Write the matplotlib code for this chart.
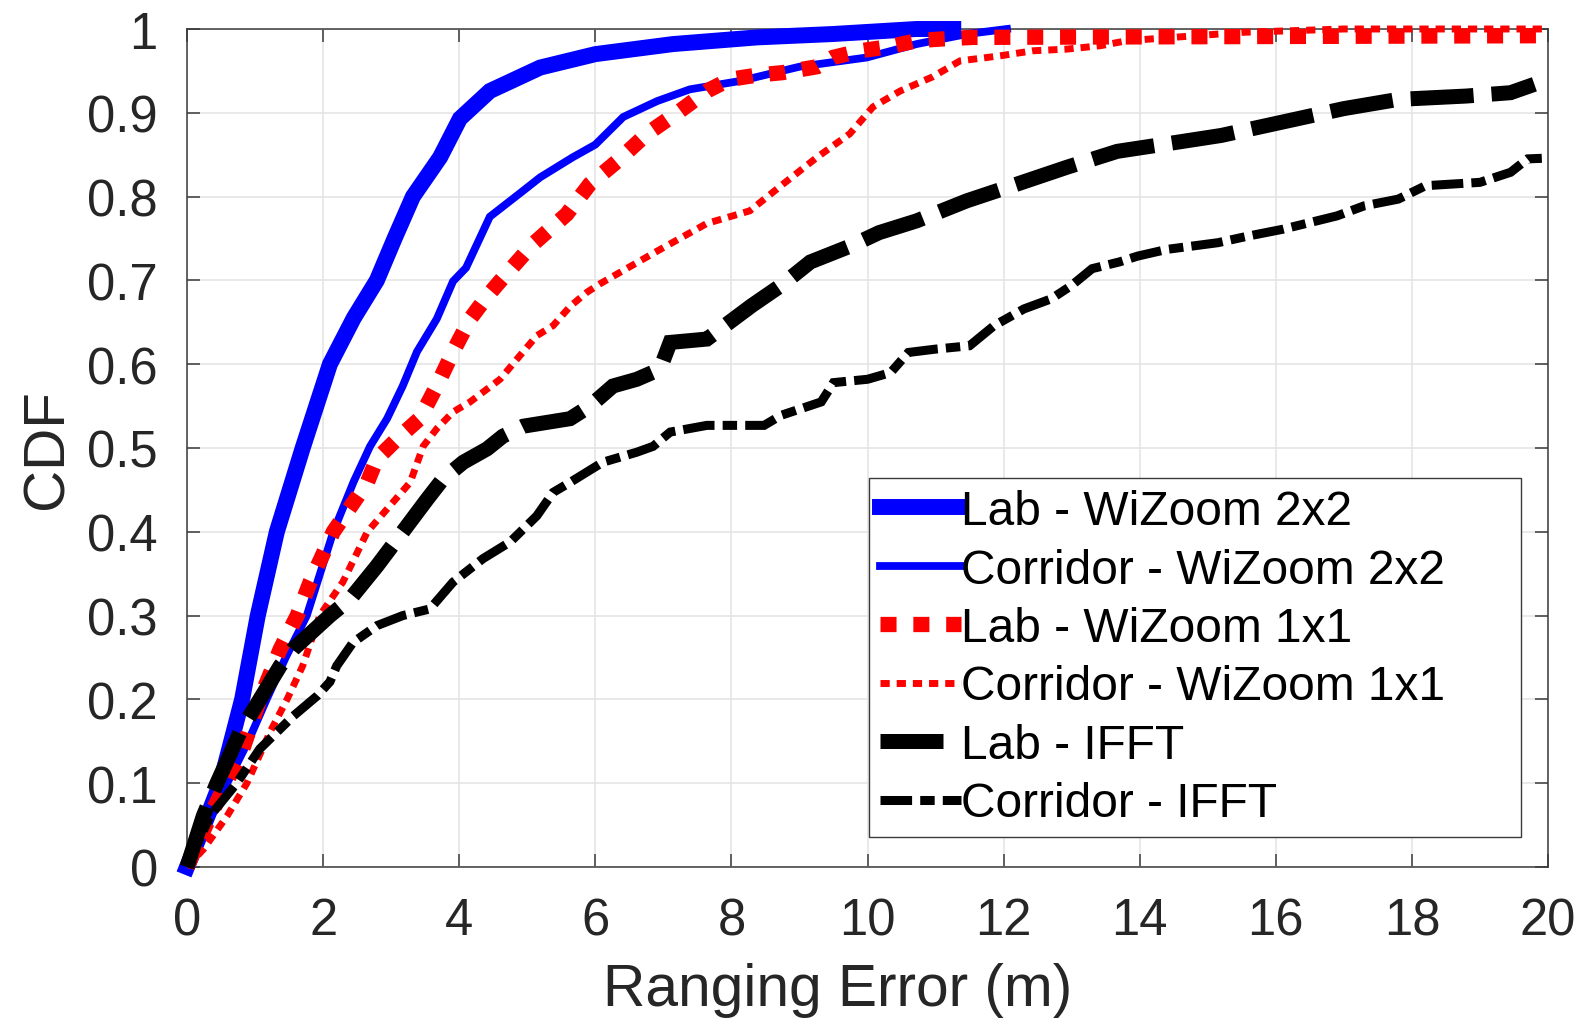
import matplotlib
matplotlib.use("Agg")
import matplotlib.pyplot as plt

plt.rcParams['font.family'] = ['Liberation Sans', 'DejaVu Sans']

# ---------------- data ----------------
lab_2x2_x = [0, 0.25, 0.49, 0.81, 1.04, 1.32, 1.70, 2.10, 2.45, 2.79, 3.05, 3.32, 3.72, 4.01,
             4.45, 5.19, 6.0, 7.14, 8.38, 9.49, 10.72, 11.26]
lab_2x2_y = [0, 0.05, 0.10, 0.20, 0.30, 0.40, 0.50, 0.60, 0.655, 0.70, 0.75, 0.80, 0.847, 0.893,
             0.926, 0.954, 0.970, 0.982, 0.990, 0.994, 1.0, 1.0]

cor_2x2_x = [0, 0.3, 0.59, 0.9, 1.17, 1.45, 1.76, 2.15, 2.45, 2.69, 2.94, 3.17, 3.38, 3.67,
             3.91, 4.1, 4.45, 4.94, 5.19, 5.67, 6.0, 6.41, 6.91, 7.39, 8.13, 9.0, 9.99, 10.72,
             11.46, 12.05]
cor_2x2_y = [0, 0.05, 0.10, 0.15, 0.20, 0.25, 0.30, 0.40, 0.46, 0.502, 0.535, 0.574, 0.615,
             0.654, 0.699, 0.715, 0.776, 0.807, 0.823, 0.847, 0.862, 0.895, 0.914, 0.928,
             0.938, 0.955, 0.966, 0.982, 0.994, 1.0]

lab_1x1_x = [0, 0.34, 0.82, 1.07, 1.37, 1.62, 1.81, 2.15, 2.65, 2.79, 3.09, 3.42, 3.67, 3.91,
             4.16, 4.41, 4.6, 5.08, 5.58, 5.92, 6.32, 6.76, 7.24, 7.64, 7.98, 8.38, 8.76, 9.26,
             9.49, 9.89, 10.33, 10.72, 11.07, 11.55, 20.0]
lab_1x1_y = [0, 0.061, 0.141, 0.20, 0.26, 0.30, 0.34, 0.40, 0.459, 0.487, 0.511, 0.535, 0.574,
             0.615, 0.654, 0.681, 0.699, 0.743, 0.779, 0.815, 0.842, 0.875, 0.902, 0.926,
             0.940, 0.945, 0.948, 0.955, 0.966, 0.974, 0.979, 0.986, 0.988, 0.990, 0.992]

cor_1x1_x = [0, 0.24, 0.59, 0.88, 1.22, 1.47, 1.70, 1.95, 2.29, 2.65, 3.28, 3.47, 3.67, 3.91,
             4.16, 4.60, 4.89, 5.14, 5.38, 5.63, 5.88, 6.07, 6.91, 7.64, 8.27, 8.76, 9.26,
             9.74, 10.08, 10.48, 10.96, 11.36, 11.95, 12.43, 12.93, 13.42, 13.81, 14.15, 15.5,
             17.0, 20.0]
cor_1x1_y = [0, 0.021, 0.061, 0.10, 0.161, 0.20, 0.24, 0.30, 0.34, 0.40, 0.459, 0.502, 0.523,
             0.543, 0.555, 0.582, 0.61, 0.634, 0.646, 0.669, 0.686, 0.696, 0.735, 0.768,
             0.783, 0.815, 0.847, 0.875, 0.907, 0.926, 0.943, 0.962, 0.968, 0.974, 0.976,
             0.98, 0.986, 0.988, 0.996, 1.0, 1.0]

lab_ifft_x = [0, 0.24, 0.44, 0.78, 1.07, 1.37, 1.56, 2.10, 2.40, 2.79, 3.17, 3.53, 3.76, 4.06,
              4.41, 4.64, 4.94, 5.63, 5.92, 6.26, 6.61, 6.95, 7.10, 7.64, 8.3, 8.73, 9.16, 9.75,
              10.17, 10.72, 11.46, 12.2, 12.93, 13.67, 14.4, 15.2, 16.1, 17.0, 17.8, 18.8,
              19.45, 19.8]
lab_ifft_y = [0, 0.061, 0.10, 0.161, 0.20, 0.24, 0.26, 0.30, 0.32, 0.359, 0.40, 0.439, 0.463,
              0.483, 0.499, 0.514, 0.526, 0.535, 0.55, 0.574, 0.582, 0.594, 0.626, 0.63, 0.67,
              0.694, 0.722, 0.741, 0.757, 0.771, 0.795, 0.815, 0.835, 0.854, 0.863, 0.873,
              0.889, 0.905, 0.916, 0.92, 0.924, 0.934]

cor_ifft_x = [0, 0.34, 0.73, 1.07, 1.56, 1.91, 2.10, 2.2, 2.44, 2.79, 3.17, 3.57, 3.91, 4.35,
              4.75, 5.14, 5.38, 5.63, 6.11, 6.61, 6.85, 7.10, 7.64, 8.48, 8.73, 9.32, 9.5, 10.0,
              10.34, 10.6, 11.0, 11.5, 11.86, 12.3, 12.7, 13.0, 13.3, 13.7, 13.97, 14.4, 15.15,
              15.6, 16.1, 16.9, 17.3, 17.8, 18.2, 19.0, 19.45, 19.7, 20.0]
cor_ifft_y = [0, 0.061, 0.10, 0.141, 0.18, 0.204, 0.221, 0.24, 0.268, 0.288, 0.30, 0.308,
              0.34, 0.368, 0.388, 0.419, 0.447, 0.459, 0.483, 0.495, 0.502, 0.519, 0.527,
              0.527, 0.539, 0.555, 0.578, 0.582, 0.59, 0.614, 0.618, 0.622, 0.646, 0.666,
              0.678, 0.694, 0.714, 0.722, 0.729, 0.737, 0.745, 0.753, 0.761, 0.777, 0.789,
              0.797, 0.813, 0.817, 0.829, 0.845, 0.846]

labels = ["Lab - WiZoom 2x2", "Corridor - WiZoom 2x2", "Lab - WiZoom 1x1",
          "Corridor - WiZoom 1x1", "Lab - IFFT", "Corridor - IFFT"]
x_ticks = [0, 2, 4, 6, 8, 10, 12, 14, 16, 18, 20]
y_ticks = [0, 0.1, 0.2, 0.3, 0.4, 0.5, 0.6, 0.7, 0.8, 0.9, 1]
y_tick_labels = ["0", "0.1", "0.2", "0.3", "0.4", "0.5", "0.6", "0.7", "0.8", "0.9", "1"]

# ---------------- figure ----------------
fig = plt.figure(figsize=(15.81, 10.20), dpi=100)
ax = fig.add_axes([187 / 1581, 1 - 868 / 1020, (1548 - 187) / 1581, (868 - 30) / 1020])

axcol = '#3a3a3a'
txtcol = '#262626'

series = [
    (lab_2x2_x, lab_2x2_y, dict(color='#0000ff', lw=11.5, ls='-')),
    (cor_2x2_x, cor_2x2_y, dict(color='#0000ff', lw=5.6, ls='-')),
    (lab_1x1_x, lab_1x1_y, dict(color='#ff0000', lw=11.0, dashes=(1.05, 1.1))),
    (cor_1x1_x, cor_1x1_y, dict(color='#ff0000', lw=5.0, dashes=(1.33, 1.0))),
    (lab_ifft_x, lab_ifft_y, dict(color='#000000', lw=10.8, dashes=(4.2, 1.2))),
    (cor_ifft_x, cor_ifft_y, dict(color='#000000', lw=6.5, dashes=(3.5, 0.9, 1.6, 0.9))),
]
handles = []
for (xs, ys, st), lab in zip(series, labels):
    kw = dict(color=st['color'], lw=st['lw'], label=lab, clip_on=False,
              solid_joinstyle='miter', dash_joinstyle='miter', zorder=3)
    if 'dashes' in st:
        h, = ax.plot(xs, ys, dashes=st['dashes'], **kw)
    else:
        h, = ax.plot(xs, ys, ls=st['ls'], **kw)
    handles.append(h)

ax.set_xlim(0, 20)
ax.set_ylim(0, 1)
ax.set_xticks(x_ticks)
ax.set_xticklabels([str(v) for v in x_ticks])
ax.set_yticks(y_ticks)
ax.set_yticklabels(y_tick_labels)

ax.grid(True, color='#e3e3e3', lw=1.1, zorder=0)
ax.set_axisbelow(True)
for sp in ax.spines.values():
    sp.set_color(axcol)
    sp.set_linewidth(1.1)
ax.tick_params(direction='in', length=9.5, width=1.1, color=axcol, labelcolor=txtcol,
               labelsize=36.5, pad=21, top=True, right=True)

ax.set_xlabel("Ranging Error (m)", fontsize=42.2, color=txtcol)
ax.set_ylabel("CDF", fontsize=42, color=txtcol)
ax.xaxis.set_label_coords(0.478, -0.113)
ax.yaxis.set_label_coords(-0.083, 0.5)

leg = ax.legend(handles=handles, loc='upper left',
                bbox_to_anchor=(0.501, 0.031, 0.479, 0.433), mode='expand',
                fontsize=34.5, frameon=True, fancybox=False, framealpha=1,
                edgecolor=axcol, borderpad=0.23, labelspacing=0.28,
                handlelength=1.69, handletextpad=0.0, borderaxespad=0.0)
leg.get_frame().set_linewidth(1.0)
for t in leg.get_texts():
    t.set_color('black')

fig.savefig("out.png", dpi=100)
